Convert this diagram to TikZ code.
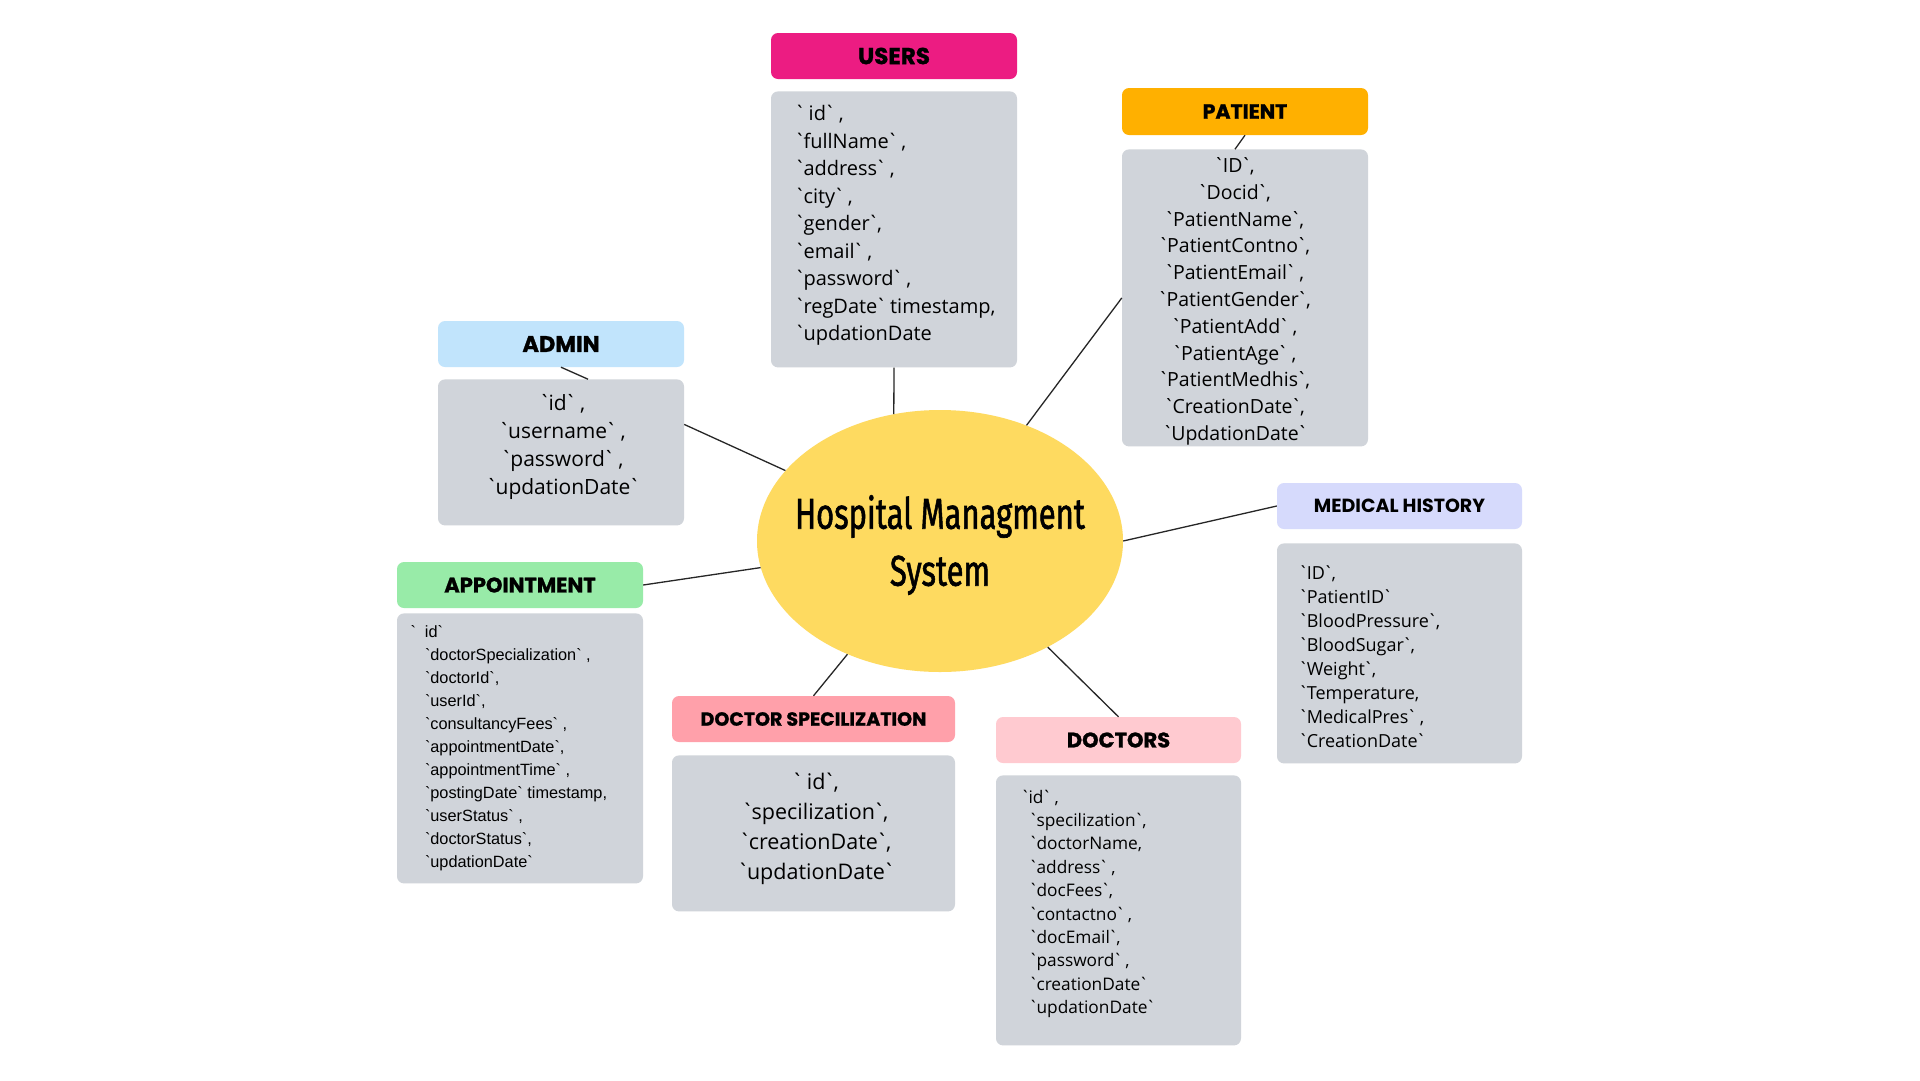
\documentclass[tikz,border=0pt]{standalone}
\usepackage{fontspec}
\usepackage{graphicx}
\newfontfamily\headfont{Poppins}[Ligatures=TeXOff,BoldFeatures={FakeBold=1.2}]
\newfontfamily\medfont{Poppins}[Ligatures=TeXOff]
\newfontfamily\fieldfont{Open Sans}[Ligatures=TeXOff]
\newfontfamily\arialfont{Liberation Sans}[Ligatures=TeXOff]
\newfontfamily\titlefont{Fira Sans}[FakeBold=1.6]
\usepackage{xcolor}
\definecolor{usersc}{RGB}{236,28,130}
\definecolor{patientc}{RGB}{255,176,0}
\definecolor{adminc}{RGB}{193,228,252}
\definecolor{apptc}{RGB}{152,235,168}
\definecolor{specc}{RGB}{255,160,170}
\definecolor{doctorsc}{RGB}{255,202,208}
\definecolor{medc}{RGB}{214,218,252}
\definecolor{boxgray}{RGB}{208,212,218}
\definecolor{hmsc}{RGB}{254,218,96}
\usepackage{tikz}
\usetikzlibrary{positioning,shapes.geometric}
\newcommand\fs[2]{\fontsize{#1}{#2}\selectfont}
\newcommand\bq{\kern-.1em`\kern-.1em}
\tikzset{
  head/.style={rounded corners=7pt,minimum height=46pt,inner sep=0pt,%
    font=\headfont\bfseries\fs{21}{24}},
  box/.style={rounded corners=7pt,fill=boxgray,inner sep=0pt},
  list/.style={inner sep=0pt,align=left},
  link/.style={line width=1.3pt,draw=black!85},
}

\begin{document}
\begin{tikzpicture}[x=1pt,y=-1pt]
\fill[white] (0,0) rectangle (1920,1080);
\useasboundingbox (0,0) rectangle (1920,1080);
% centre
\node[ellipse,fill=hmsc,minimum width=366pt,minimum height=262pt,inner sep=0pt] (hms) at (940,541) {};
\node[font=\titlefont\fs{43}{57},align=center] (title) at (940,545)
  {\scalebox{0.72}[1]{Hospital Managment}\\\scalebox{0.72}[1]{System}};
% tables
\node[head,fill=usersc,minimum width=246pt,font=\headfont\bfseries\fs{23}{26}] (users) at (894,56) {USERS};
\node[box,minimum width=246pt,minimum height=276pt,below=12pt of users] (usersb) {};
\node[list,font=\fieldfont\fs{20}{27.5},right=25pt of usersb.west,yshift=4pt] (usersf)
  {\bq\ id\bq\ ,\\\bq fullName\bq\ ,\\\bq address\bq\ ,\\\bq city\bq\ ,\\\bq gender\bq,\\\bq email\bq\ ,\\\bq password\bq\ ,\\\bq regDate\bq\ timestamp,\\\bq updationDate};

\node[head,fill=patientc,minimum width=246pt,minimum height=47pt,font=\headfont\bfseries\fs{20.5}{24}] (patient) at (1245,111.5) {PATIENT};
\node[box,minimum width=246pt,minimum height=297pt,below=14pt of patient] (patientb) {};
\node[list,align=center,font=\fieldfont\fs{19.5}{26.8},xshift=-10pt,yshift=-3.5pt] (patientf) at (patientb)
  {\bq ID\bq,\\\bq Docid\bq,\\\bq PatientName\bq,\\\bq PatientContno\bq,\\\bq PatientEmail\bq\ ,\\\bq PatientGender\bq,\\\bq PatientAdd\bq\ ,\\\bq PatientAge\bq\ ,\\\bq PatientMedhis\bq,\\\bq CreationDate\bq,\\\bq UpdationDate\bq};

\node[head,fill=adminc,minimum width=246pt,font=\headfont\bfseries\fs{22.5}{26}] (admin) at (561,344) {ADMIN};
\node[box,minimum width=246pt,minimum height=146pt,below=12pt of admin] (adminb) {};
\node[list,align=center,font=\fieldfont\fs{21}{28.2},xshift=2pt,yshift=5.5pt] (adminf) at (adminb)
  {\bq id\bq\ ,\\\bq username\bq\ ,\\\bq password\bq\ ,\\\bq updationDate\bq};

\node[head,fill=apptc,minimum width=246pt] (appt) at (520,585) {APPOINTMENT};
\node[box,minimum width=246pt,minimum height=270pt,below=5pt of appt] (apptb) {};
\node[list,font=\arialfont\fs{16.3}{23},right=28pt of apptb.west] (apptf)
  {\llap{`\ \ }id`\\`doctorSpecialization` ,\\`doctorId`,\\`userId`,\\`consultancyFees` ,\\`appointmentDate`,\\`appointmentTime` ,\\`postingDate` timestamp,\\`userStatus` ,\\`doctorStatus`,\\`updationDate`};

\node[head,fill=specc,minimum width=283pt,font=\headfont\bfseries\fs{19}{22}] (spec) at (813.5,719) {DOCTOR SPECILIZATION};
\node[box,minimum width=283pt,minimum height=156pt,below=13pt of spec] (specb) {};
\node[list,align=center,font=\fieldfont\fs{21.5}{29.8},xshift=2.5pt,yshift=4.5pt] (specf) at (specb)
  {\bq\ id\bq,\\\bq specilization\bq,\\\bq creationDate\bq,\\\bq updationDate\bq};

\node[head,fill=doctorsc,minimum width=245pt] (doctors) at (1118.5,740) {DOCTORS};
\node[box,minimum width=245pt,minimum height=270pt,below=12pt of doctors] (doctorsb) {};
\node[list,font=\fieldfont\fs{17.3}{23.4},right=34pt of doctorsb.west,yshift=6.5pt] (doctorsf)
  {\hspace*{-8pt}\bq id\bq\ ,\\\bq specilization\bq,\\\bq doctorName,\\\bq address\bq\ ,\\\bq docFees\bq,\\\bq contactno\bq\ ,\\\bq docEmail\bq,\\\bq password\bq\ ,\\\bq creationDate\bq\\\bq updationDate\bq};

\node[head,fill=medc,minimum width=245pt,font=\medfont\bfseries\fs{19}{22}] (med) at (1399.5,506) {MEDICAL HISTORY};
\node[box,minimum width=245pt,minimum height=220pt,below=14pt of med] (medb) {};
\node[list,font=\fieldfont\fs{18}{24},right=23pt of medb.west,yshift=-3pt] (medf)
  {\bq ID\bq,\\\bq PatientID\bq\\\bq BloodPressure\bq,\\\bq BloodSugar\bq,\\\bq Weight\bq,\\\bq Temperature,\\\bq MedicalPres\bq\ ,\\\bq CreationDate\bq};
% links
\draw[link] (usersb.south) -- (hms.110);
\draw[link] (hms) -- (patientb.west);
\draw[link] (patient.south) -- ([xshift=-10pt]patientb.north);
\draw[link] (hms) -- ([yshift=28pt]adminb.east);
\draw[link] (admin.south) -- ([xshift=27pt]adminb.north);
\draw[link] (hms) -- (appt.east);
\draw[link] (hms) -- (spec.north);
\draw[link] (hms) -- (doctors.north);
\draw[link] (hms.east) -- (med.west);
\end{tikzpicture}
\end{document}
